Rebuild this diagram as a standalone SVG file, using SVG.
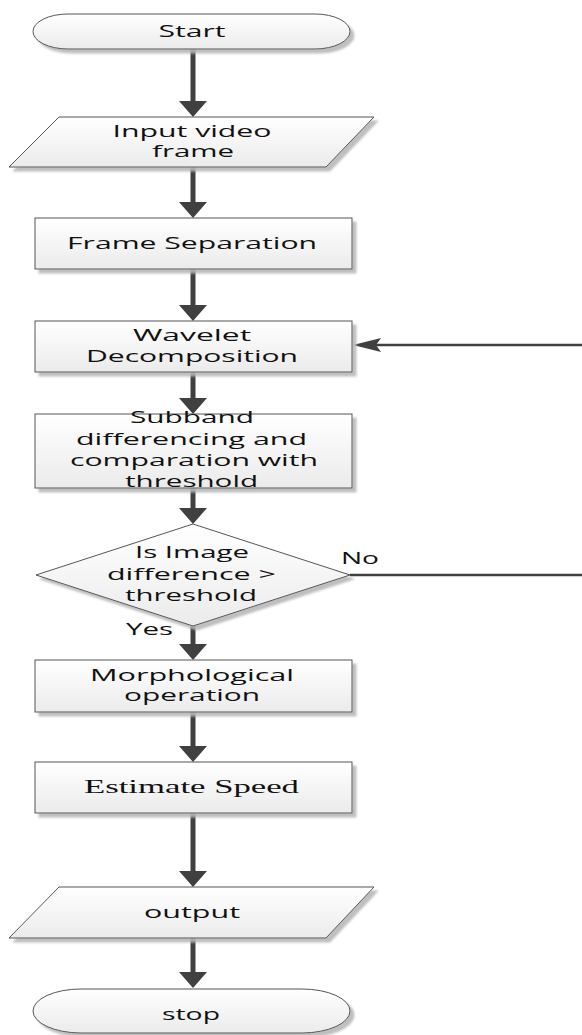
<svg xmlns="http://www.w3.org/2000/svg" width="582" height="1035" viewBox="0 0 582 1035">
<defs>
<linearGradient id="g" x1="0" y1="0" x2="0" y2="1">
<stop offset="0" stop-color="#ffffff"/>
<stop offset="1" stop-color="#ebebeb"/>
</linearGradient>
<filter id="sh" x="-10%" y="-20%" width="125%" height="150%">
<feDropShadow dx="4" dy="4" stdDeviation="1.2" flood-color="#b8b8b8" flood-opacity="0.9"/>
</filter>
<marker id="ah" markerUnits="userSpaceOnUse" markerWidth="16" markerHeight="28" refX="4" refY="14" orient="auto" viewBox="0 0 16 28">
<path d="M0,0 L16,14 L0,28 Z" fill="#404040"/>
</marker>
<marker id="ah2" markerUnits="userSpaceOnUse" markerWidth="28" markerHeight="14" refX="21" refY="7" orient="auto" viewBox="0 0 28 14">
<path d="M0,0 L28,7 L0,14 L5,7 Z" fill="#404040"/>
</marker>
</defs>
<style>
.s{fill:url(#g);stroke:#555;stroke-width:1;filter:url(#sh)}
.t{font-family:"Open Sans","Liberation Sans",sans-serif;font-size:16px;fill:#111;text-anchor:middle}
.ts{font-family:"Liberation Serif","Times New Roman",serif;font-size:18px;fill:#111;text-anchor:middle}
.c{stroke:#404040;stroke-width:5;fill:none;marker-end:url(#ah)}
.c2{stroke:#404040;stroke-width:2.5;fill:none}
</style>
<rect width="582" height="1035" fill="#fff"/>

<g id="connectors">
<line class="c" x1="193" y1="49" x2="193" y2="105"/>
<line class="c" x1="193" y1="167" x2="193" y2="206"/>
<line class="c" x1="193" y1="269" x2="193" y2="309"/>
<line class="c" x1="193" y1="372" x2="193" y2="402"/>
<line class="c" x1="193" y1="488" x2="193" y2="512"/>
<line class="c" x1="193" y1="626" x2="193" y2="648"/>
<line class="c" x1="193" y1="712" x2="193" y2="750"/>
<line class="c" x1="193" y1="813" x2="193" y2="875"/>
<line class="c" x1="193" y1="938" x2="193" y2="976"/>
<line class="c2" x1="582" y1="345" x2="360" y2="345" marker-end="url(#ah2)"/>
<line class="c2" x1="350" y1="575" x2="582" y2="575"/>
<text class="t" x="360" y="564" textLength="38" lengthAdjust="spacingAndGlyphs">No</text>
<text class="t" x="149.5" y="635" textLength="47" lengthAdjust="spacingAndGlyphs">Yes</text>
</g>

<g id="start">
<path class="s" d="M68,14 H315 A35,17.5 0 0 1 315,49 H68 A35,17.5 0 0 1 68,14 Z"/>
<text class="t" x="192" y="37" textLength="67" lengthAdjust="spacingAndGlyphs">Start</text>
</g>

<g id="input">
<polygon class="s" points="59,117 374,117 326,167 9,167"/>
<text class="t" x="192" y="137" textLength="159" lengthAdjust="spacingAndGlyphs">Input video</text>
<text class="t" x="193" y="157" textLength="82" lengthAdjust="spacingAndGlyphs">frame</text>
</g>

<g id="frame-separation">
<rect class="s" x="35" y="218" width="317" height="51"/>
<text class="t" x="192" y="249" textLength="250" lengthAdjust="spacingAndGlyphs">Frame Separation</text>
</g>

<g id="wavelet">
<rect class="s" x="35" y="321" width="317" height="51"/>
<text class="t" x="192" y="341" textLength="118" lengthAdjust="spacingAndGlyphs">Wavelet</text>
<text class="t" x="192" y="362" textLength="212" lengthAdjust="spacingAndGlyphs">Decomposition</text>
</g>

<g id="subband">
<rect class="s" x="35" y="414" width="317" height="74"/>
<text class="t" x="192" y="423" textLength="124" lengthAdjust="spacingAndGlyphs">Subband</text>
<text class="t" x="191.5" y="444.5" textLength="231" lengthAdjust="spacingAndGlyphs">differencing and</text>
<text class="t" x="194" y="466" textLength="248" lengthAdjust="spacingAndGlyphs">comparation with</text>
<text class="t" x="191.5" y="487" textLength="133" lengthAdjust="spacingAndGlyphs">threshold</text>
</g>

<g id="decision">
<polygon class="s" points="193,524 350,575 193,626 36,575"/>
<text class="t" x="192" y="558" textLength="114" lengthAdjust="spacingAndGlyphs">Is Image</text>
<text class="t" x="191.5" y="580" textLength="169" lengthAdjust="spacingAndGlyphs">difference &gt;</text>
<text class="t" x="191" y="601" textLength="132" lengthAdjust="spacingAndGlyphs">threshold</text>
</g>

<g id="morphological">
<rect class="s" x="35" y="660" width="317" height="52"/>
<text class="t" x="192" y="681" textLength="204" lengthAdjust="spacingAndGlyphs">Morphological</text>
<text class="t" x="192" y="701" textLength="136" lengthAdjust="spacingAndGlyphs">operation</text>
</g>

<g id="estimate-speed">
<rect class="s" x="35" y="762" width="317" height="51"/>
<text class="ts" x="191.5" y="793" textLength="215" lengthAdjust="spacingAndGlyphs">Estimate Speed</text>
</g>

<g id="output">
<polygon class="s" points="59,887 374,887 326,938 9,938"/>
<text class="t" x="192" y="918" textLength="96" lengthAdjust="spacingAndGlyphs">output</text>
</g>

<g id="stop">
<path class="s" d="M81,989 H302 A48,22 0 0 1 302,1033 H81 A48,22 0 0 1 81,989 Z"/>
<text class="t" x="191" y="1020" textLength="58" lengthAdjust="spacingAndGlyphs">stop</text>
</g>
</svg>
